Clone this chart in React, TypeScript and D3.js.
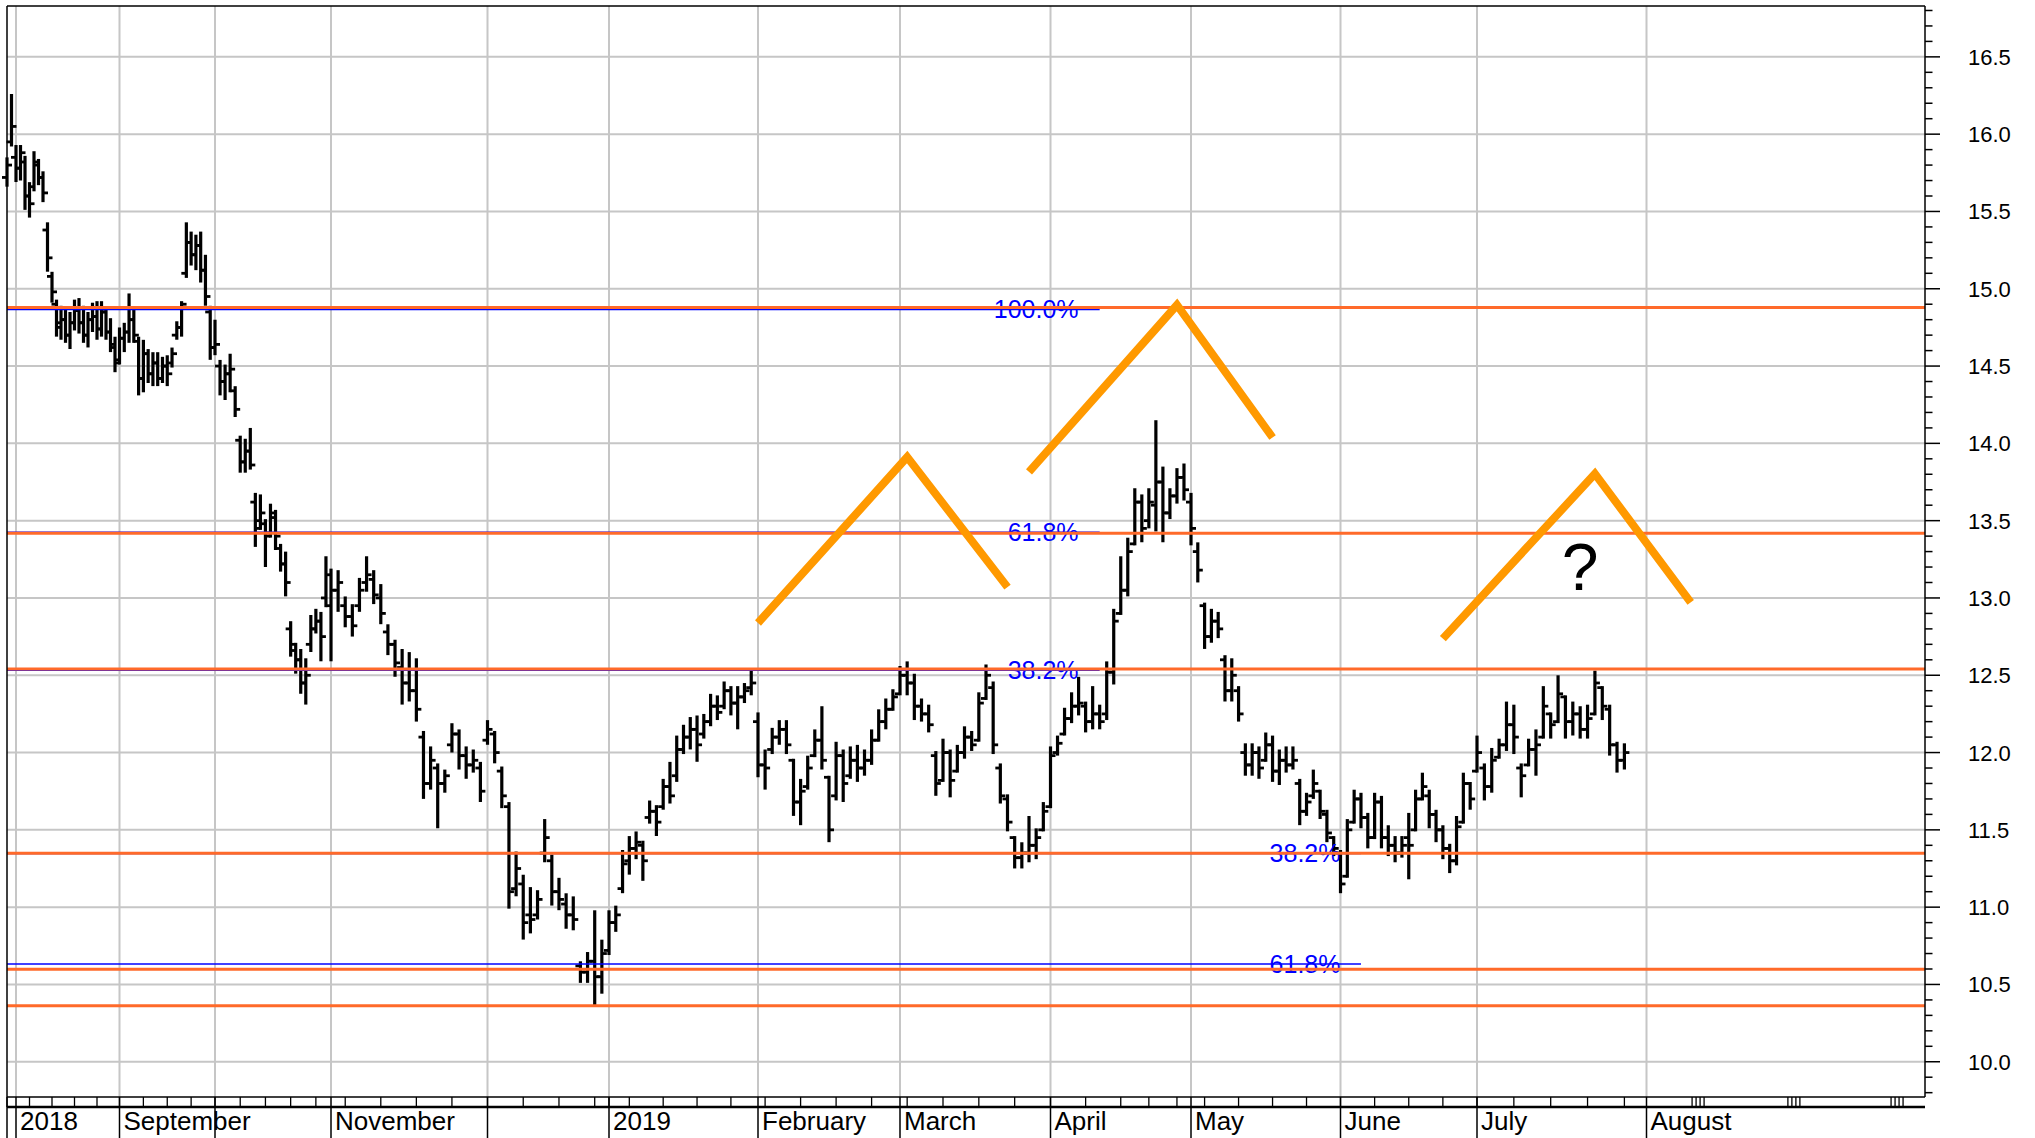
import React from 'react';
import * as d3 from 'd3';

// ---------- categories (trading days) ----------
const FIRST_DAY = '2018-07-30';
const LAST_AXIS_DAY = '2019-09-30';
const HOLIDAYS = ['2018-12-24', '2018-12-25', '2018-12-26', '2018-12-31', '2019-01-01', '2019-04-19', '2019-04-22', '2019-05-01'];

// ---------- series values (daily OHLC, Jul 30 2018 .. Jul 29 2019) ----------
const OPEN = [
  15.72, 15.95, 15.85, 15.78, 15.82, 15.60, 15.66, 15.80, 15.72, 15.38, 15.08, 14.90, 14.75, 14.80, 14.70, 14.78, 14.86, 14.78, 14.70, 14.80, 14.82, 14.74, 14.85, 14.72, 14.62,
  14.54, 14.68, 14.72, 14.80, 14.66, 14.42, 14.58, 14.45, 14.52, 14.42, 14.50, 14.52, 14.70, 14.75, 15.10, 15.30, 15.22, 15.28, 15.12, 14.85,
  14.62, 14.50, 14.40, 14.45, 14.34, 14.02, 13.88, 13.95, 13.62, 13.50, 13.48, 13.42, 13.52, 13.32, 13.22, 12.80, 12.66, 12.60, 12.45, 12.70, 12.80, 12.85, 13.00,
  12.95, 13.05, 12.95, 12.88, 12.95, 13.10, 13.12, 13.00, 12.78, 12.70, 12.55, 12.45, 12.40, 12.10, 11.80, 11.90, 11.80, 12.05, 12.12, 11.98, 11.92, 11.90,
  12.08, 12.12, 11.88, 11.65, 11.12, 11.15, 10.95, 10.95, 11.35, 11.30, 11.10, 11.02, 10.95, 10.62, 10.58, 10.65, 10.55,
  10.72, 10.90, 11.12, 11.30, 11.38, 11.40, 11.58, 11.62, 11.65, 11.78, 11.85, 12.02, 12.10, 12.15, 12.12, 12.20, 12.30, 12.30, 12.40, 12.32, 12.36, 12.42,
  12.20, 11.92, 12.02, 12.10, 12.15, 11.95, 11.68, 11.78, 11.98, 12.08, 11.84, 11.72, 11.98, 11.85, 11.95, 11.90, 11.95, 12.08, 12.20, 12.28,
  12.38, 12.50, 12.45, 12.30, 12.25, 11.98, 11.82, 12.00, 11.88, 12.00, 12.10, 12.08, 12.35, 12.42, 11.90, 11.70, 11.45, 11.32, 11.35, 11.40, 11.50,
  11.65, 12.00, 12.12, 12.22, 12.30, 12.30, 12.20, 12.25, 12.25, 12.52, 12.90, 13.05, 13.35, 13.62, 13.50, 13.60, 13.75, 13.55, 13.66, 13.78,
  13.62, 13.30, 12.95, 12.75, 12.85, 12.60, 12.40, 12.40, 12.00, 11.92, 12.00, 11.95, 12.05, 11.88, 11.95, 11.92, 11.80, 11.62, 11.72, 11.75, 11.60, 11.45,
  11.35, 11.20, 11.55, 11.70, 11.58, 11.45, 11.68, 11.45, 11.40, 11.35, 11.45, 11.50, 11.70, 11.72, 11.60, 11.50, 11.38, 11.30, 11.55, 11.80,
  11.88, 11.90, 11.78, 11.97, 12.05, 12.18, 11.90, 11.92, 12.02, 12.10, 12.25, 12.20, 12.36, 12.20, 12.25, 12.15, 12.25, 12.42, 12.28, 12.05, 11.95,
];
const HIGH = [
  15.84, 16.25, 15.92, 15.92, 15.85, 15.68, 15.88, 15.83, 15.75, 15.42, 15.10, 14.92, 14.88, 14.86, 14.84, 14.92, 14.93, 14.88, 14.84, 14.90, 14.91, 14.91, 14.87, 14.80, 14.68,
  14.74, 14.77, 14.96, 14.87, 14.68, 14.66, 14.60, 14.58, 14.58, 14.55, 14.56, 14.61, 14.78, 14.91, 15.42, 15.36, 15.34, 15.36, 15.21, 14.88,
  14.79, 14.53, 14.50, 14.57, 14.36, 14.04, 14.02, 14.09, 13.67, 13.66, 13.50, 13.60, 13.56, 13.34, 13.29, 12.84, 12.70, 12.66, 12.60, 12.88, 12.92, 12.90, 13.26,
  13.18, 13.17, 13.00, 12.95, 13.12, 13.26, 13.17, 13.08, 12.82, 12.72, 12.66, 12.64, 12.60, 12.13, 12.03, 11.92, 11.88, 12.18, 12.14, 12.03, 12.01, 11.93,
  12.20, 12.13, 11.90, 11.67, 11.35, 11.20, 11.12, 11.10, 11.56, 11.33, 11.18, 11.08, 11.06, 10.64, 10.70, 10.97, 10.78,
  10.97, 11.00, 11.36, 11.45, 11.48, 11.42, 11.68, 11.65, 11.82, 11.93, 12.10, 12.17, 12.22, 12.23, 12.24, 12.37, 12.36, 12.45, 12.42, 12.42, 12.44, 12.53,
  12.25, 12.01, 12.15, 12.20, 12.20, 11.95, 11.82, 11.97, 12.14, 12.29, 11.84, 12.06, 12.01, 12.03, 12.04, 12.01, 12.14, 12.27, 12.34, 12.40,
  12.55, 12.58, 12.50, 12.34, 12.30, 12.00, 12.08, 12.01, 12.04, 12.16, 12.13, 12.38, 12.56, 12.45, 11.92, 11.72, 11.45, 11.41, 11.58, 11.50, 11.67,
  12.03, 12.10, 12.28, 12.38, 12.48, 12.32, 12.42, 12.30, 12.58, 12.92, 13.26, 13.38, 13.70, 13.66, 13.70, 14.14, 13.84, 13.70, 13.83, 13.86,
  13.67, 13.35, 12.96, 12.92, 12.90, 12.62, 12.60, 12.42, 12.05, 12.05, 12.03, 12.12, 12.10, 12.01, 12.03, 12.03, 11.82, 11.73, 11.88, 11.75, 11.62, 11.45,
  11.36, 11.56, 11.75, 11.73, 11.60, 11.73, 11.71, 11.52, 11.45, 11.45, 11.60, 11.75, 11.86, 11.75, 11.62, 11.52, 11.40, 11.58, 11.86, 11.80,
  12.10, 11.92, 12.02, 12.08, 12.32, 12.30, 11.92, 12.08, 12.14, 12.42, 12.25, 12.49, 12.36, 12.32, 12.29, 12.30, 12.52, 12.42, 12.30, 12.06, 12.05,
];
const LOW = [
  15.67, 15.93, 15.70, 15.71, 15.52, 15.47, 15.64, 15.68, 15.57, 15.12, 14.92, 14.70, 14.68, 14.66, 14.62, 14.74, 14.72, 14.66, 14.63, 14.73, 14.68, 14.70, 14.68, 14.60, 14.47,
  14.52, 14.60, 14.66, 14.66, 14.32, 14.34, 14.40, 14.38, 14.38, 14.40, 14.38, 14.50, 14.68, 14.70, 15.08, 15.16, 15.13, 15.05, 14.90, 14.55,
  14.58, 14.32, 14.29, 14.34, 14.18, 13.82, 13.82, 13.84, 13.34, 13.45, 13.21, 13.40, 13.32, 13.18, 13.02, 12.63, 12.52, 12.39, 12.32, 12.66, 12.78, 12.60, 12.95,
  12.60, 12.92, 12.82, 12.76, 12.92, 13.05, 12.97, 12.84, 12.64, 12.50, 12.32, 12.34, 12.21, 11.71, 11.77, 11.52, 11.75, 12.01, 11.90, 11.84, 11.88, 11.69,
  12.06, 11.94, 11.65, 11.00, 11.08, 10.80, 10.84, 10.93, 11.30, 11.02, 10.99, 10.87, 10.86, 10.52, 10.52, 10.37, 10.45,
  10.70, 10.85, 11.10, 11.22, 11.32, 11.18, 11.55, 11.47, 11.64, 11.68, 11.82, 12.00, 12.03, 11.95, 12.10, 12.18, 12.22, 12.29, 12.25, 12.16, 12.33, 12.38,
  11.85, 11.77, 12.00, 12.06, 12.00, 11.60, 11.54, 11.77, 11.98, 11.90, 11.43, 11.70, 11.69, 11.84, 11.82, 11.86, 11.93, 12.08, 12.16, 12.28,
  12.38, 12.38, 12.22, 12.21, 12.14, 11.73, 11.82, 11.72, 11.88, 11.97, 12.02, 12.08, 12.35, 12.00, 11.68, 11.50, 11.26, 11.26, 11.30, 11.32, 11.50,
  11.65, 11.99, 12.12, 12.20, 12.25, 12.14, 12.16, 12.16, 12.22, 12.45, 12.90, 13.02, 13.35, 13.37, 13.46, 13.44, 13.37, 13.52, 13.62, 13.64,
  13.35, 13.11, 12.68, 12.72, 12.75, 12.34, 12.34, 12.21, 11.86, 11.86, 11.84, 11.95, 11.82, 11.80, 11.88, 11.90, 11.54, 11.60, 11.71, 11.58, 11.43, 11.34,
  11.10, 11.20, 11.55, 11.52, 11.39, 11.45, 11.39, 11.34, 11.30, 11.33, 11.19, 11.50, 11.70, 11.52, 11.43, 11.32, 11.23, 11.28, 11.55, 11.64,
  11.88, 11.70, 11.75, 11.97, 12.02, 12.00, 11.72, 11.92, 11.86, 12.10, 12.10, 12.20, 12.10, 12.12, 12.10, 12.10, 12.25, 12.22, 11.99, 11.88, 11.90,
];
const CLOSE = [
  15.80, 16.05, 15.78, 15.88, 15.60, 15.55, 15.82, 15.72, 15.62, 15.20, 14.98, 14.78, 14.80, 14.70, 14.78, 14.86, 14.78, 14.70, 14.80, 14.82, 14.74, 14.85, 14.72, 14.64, 14.52,
  14.68, 14.72, 14.80, 14.70, 14.42, 14.58, 14.45, 14.52, 14.42, 14.50, 14.45, 14.58, 14.75, 14.90, 15.30, 15.22, 15.28, 15.12, 14.95, 14.62,
  14.64, 14.40, 14.45, 14.48, 14.22, 13.88, 13.95, 13.86, 13.45, 13.55, 13.40, 13.55, 13.40, 13.22, 13.10, 12.70, 12.60, 12.45, 12.50, 12.80, 12.85, 12.75, 13.15,
  13.05, 13.10, 12.88, 12.82, 13.05, 13.15, 13.02, 12.90, 12.70, 12.58, 12.45, 12.40, 12.28, 11.80, 11.95, 11.80, 11.85, 12.12, 11.98, 11.92, 11.95, 11.75,
  12.15, 12.00, 11.72, 11.10, 11.25, 10.90, 10.92, 11.05, 11.45, 11.10, 11.05, 10.95, 10.92, 10.58, 10.65, 10.55, 10.70,
  10.90, 10.95, 11.28, 11.38, 11.42, 11.30, 11.62, 11.55, 11.78, 11.72, 12.02, 12.10, 12.15, 12.05, 12.20, 12.30, 12.26, 12.40, 12.32, 12.36, 12.40, 12.45,
  11.92, 11.90, 12.10, 12.15, 12.05, 11.68, 11.75, 11.90, 12.08, 11.95, 11.50, 11.98, 11.80, 11.95, 11.90, 11.95, 12.08, 12.20, 12.28, 12.36,
  12.50, 12.45, 12.30, 12.25, 12.18, 11.80, 12.00, 11.82, 12.00, 12.10, 12.05, 12.32, 12.50, 12.05, 11.72, 11.55, 11.32, 11.35, 11.40, 11.45, 11.62,
  11.98, 12.06, 12.22, 12.30, 12.32, 12.20, 12.25, 12.20, 12.52, 12.85, 13.05, 13.30, 13.62, 13.45, 13.62, 13.75, 13.55, 13.66, 13.78, 13.70,
  13.45, 13.18, 12.75, 12.85, 12.80, 12.40, 12.50, 12.25, 11.92, 12.00, 11.90, 12.05, 11.88, 11.95, 11.92, 11.95, 11.62, 11.68, 11.80, 11.62, 11.48, 11.38,
  11.15, 11.50, 11.70, 11.58, 11.45, 11.68, 11.45, 11.40, 11.35, 11.40, 11.40, 11.70, 11.78, 11.60, 11.50, 11.38, 11.30, 11.52, 11.80, 11.70,
  12.00, 11.78, 11.95, 12.05, 12.18, 12.10, 11.85, 12.02, 12.05, 12.30, 12.18, 12.38, 12.20, 12.25, 12.15, 12.22, 12.45, 12.30, 12.05, 11.95, 12.00,
];

// ---------- axis categories / tick labels ----------
const MONTHS = ['2018-08', '2018-09', '2018-10', '2018-11', '2018-12', '2019-01', '2019-02', '2019-03', '2019-04', '2019-05', '2019-06', '2019-07', '2019-08'];
const MONTH_LABELS = ['2018', 'September', '', 'November', '', '2019', 'February', 'March', 'April', 'May', 'June', 'July', 'August'];
const Y_LABELS = [10.0, 10.5, 11.0, 11.5, 12.0, 12.5, 13.0, 13.5, 14.0, 14.5, 15.0, 15.5, 16.0, 16.5];
const FUTURE_MARKS = ['2019-08-12', '2019-08-29', '2019-09-18'];

// ---------- annotations ----------
const SUPPORT_LEVELS = [14.879, 13.418, 12.54, 11.348, 10.598, 10.362];
const FIB_UPPER_LEVELS = [14.866, 13.425, 12.533];
const FIB_UPPER_LABELS = ['100.0%', '61.8%', '38.2%'];
const FIB_LOWER_LEVELS = [11.348, 10.632];
const FIB_LOWER_LABELS = ['38.2%', '61.8%'];
const FIB_UPPER_END = { label: '2019-04-05', line: '2019-04-10' };
const FIB_LOWER_END = { label: '2019-06-03', line: '2019-06-06' };
const ZIG_DATES = [
  ['2019-02-01', '2019-03-04', '2019-03-22'],
  ['2019-03-27', '2019-04-29', '2019-05-20'],
  ['2019-06-24', '2019-07-23', '2019-08-09'],
];
const ZIG_PRICES = [
  [12.838, 13.911, 13.07],
  [13.816, 14.895, 14.038],
  [12.737, 13.803, 12.972],
];
const QUESTION = { date: '2019-07-19', price: 13.05 };

// ---------- layout ----------
const W = 2035;
const H = 1138;
const PLOT = { left: 7, right: 1925, top: 6, bottom: 1097 };
const MONTH_X = [16, 119.5, 215, 331, 487.5, 609, 758, 900, 1050.5, 1191, 1340.5, 1477, 1646.5];
const Y_DOMAIN = [9.772, 16.829];
const FONT = '"Liberation Sans", Arial, Helvetica, sans-serif';
const ORANGE = '#ff6a2a';
const ZIG = '#ff9900';
const BLUE = '#0000ff';
const GRID = '#c6c6c6';

const fmt = d3.utcFormat('%Y-%m-%d');
const parse = d3.utcParse('%Y-%m-%d');

export default function App() {
  const days = d3.utcDay
    .range(parse(FIRST_DAY) as Date, d3.utcDay.offset(parse(LAST_AXIS_DAY) as Date, 1))
    .filter((d) => d.getUTCDay() !== 0 && d.getUTCDay() !== 6 && !HOLIDAYS.includes(fmt(d)));
  const dayIdx = new Map<string, number>();
  days.forEach((d, i) => dayIdx.set(fmt(d), i));
  const monthFirstIdx = MONTHS.map((m) => days.findIndex((d) => fmt(d).slice(0, 7) === m));

  const x = d3.scaleLinear().domain(monthFirstIdx).range(MONTH_X);
  const y = d3.scaleLinear().domain(Y_DOMAIN).range([PLOT.bottom, PLOT.top]);
  const xd = (s: string) => x(dayIdx.get(s) as number);

  const n = Math.min(OPEN.length, HIGH.length, LOW.length, CLOSE.length);
  const bars = d3.range(n).map((i) => ({ i, o: OPEN[i], h: HIGH[i], l: LOW[i], c: CLOSE[i] }));

  // weekly ticks (first trading day of each week) within the data
  const weekTicks: number[] = [];
  for (let i = 0; i < n; i++) {
    if (i === 0 || days[i].getUTCDay() < days[i - 1].getUTCDay()) weekTicks.push(i);
  }

  const minorTicks = d3.range(98, 169).map((v) => v / 10);

  const zigLine = d3
    .line<[number, number]>()
    .x((d) => d[0])
    .y((d) => d[1]);

  return (
    <svg
      width={W}
      height={H}
      style={{ position: 'absolute', left: 0, top: 0, background: '#fff' }}
      fontFamily={FONT}
    >
      <rect x={0} y={0} width={W} height={H} fill="#fff" />

      {/* grid */}
      {Y_LABELS.map((v) => (
        <line key={'hg' + v} x1={PLOT.left} x2={PLOT.right} y1={y(v)} y2={y(v)} stroke={GRID} strokeWidth={2} />
      ))}
      {monthFirstIdx.map((idx, k) => (
        <line key={'vg' + k} x1={x(idx)} x2={x(idx)} y1={PLOT.top} y2={PLOT.bottom} stroke={GRID} strokeWidth={2} />
      ))}

      {/* OHLC bars */}
      <g stroke="#000" strokeWidth={3.2}>
        {bars.map((b) => {
          const cx = x(b.i);
          return (
            <g key={b.i}>
              <line x1={cx} x2={cx} y1={y(b.h) - 1.5} y2={y(b.l) + 1.5} />
              <line x1={cx - 5} x2={cx} y1={y(b.o)} y2={y(b.o)} strokeWidth={2.8} />
              <line x1={cx} x2={cx + 5} y1={y(b.c)} y2={y(b.c)} strokeWidth={2.8} />
            </g>
          );
        })}
      </g>

      {/* Fibonacci lines and labels */}
      {FIB_UPPER_LEVELS.map((v, k) => (
        <g key={'fu' + k}>
          <line x1={PLOT.left} x2={xd(FIB_UPPER_END.line)} y1={y(v)} y2={y(v)} stroke={BLUE} strokeWidth={1.6} />
          <text x={xd(FIB_UPPER_END.label)} y={y(v) + 9} textAnchor="end" fontSize={25} fill={BLUE}>
            {FIB_UPPER_LABELS[k]}
          </text>
        </g>
      ))}
      {FIB_LOWER_LEVELS.map((v, k) => (
        <g key={'fl' + k}>
          <line x1={PLOT.left} x2={xd(FIB_LOWER_END.line)} y1={y(v)} y2={y(v)} stroke={BLUE} strokeWidth={1.6} />
          <text x={xd(FIB_LOWER_END.label)} y={y(v) + 9} textAnchor="end" fontSize={25} fill={BLUE}>
            {FIB_LOWER_LABELS[k]}
          </text>
        </g>
      ))}

      {/* horizontal support / resistance lines */}
      {SUPPORT_LEVELS.map((v, k) => (
        <line key={'sl' + k} x1={PLOT.left} x2={PLOT.right} y1={y(v)} y2={y(v)} stroke={ORANGE} strokeWidth={3} />
      ))}

      {/* zig-zag pattern sketches */}
      {ZIG_DATES.map((ds, k) => (
        <path
          key={'zz' + k}
          d={zigLine(ds.map((s, j) => [xd(s), y(ZIG_PRICES[k][j])] as [number, number])) as string}
          fill="none"
          stroke={ZIG}
          strokeWidth={8}
          strokeLinejoin="miter"
          strokeMiterlimit={10}
        />
      ))}
      <text x={xd(QUESTION.date)} y={y(QUESTION.price)} textAnchor="middle" fontSize={66} fill="#000">
        ?
      </text>

      {/* plot frame */}
      <line x1={PLOT.left} x2={PLOT.right} y1={PLOT.top} y2={PLOT.top} stroke="#000" strokeWidth={1.5} />
      <line x1={PLOT.left} x2={PLOT.left} y1={PLOT.top} y2={H} stroke="#000" strokeWidth={1.5} />
      <line x1={PLOT.right} x2={PLOT.right} y1={PLOT.top} y2={PLOT.bottom} stroke="#000" strokeWidth={1.5} />
      <line x1={PLOT.left} x2={PLOT.right} y1={PLOT.bottom} y2={PLOT.bottom} stroke="#000" strokeWidth={1.5} />
      <line x1={PLOT.left} x2={PLOT.right} y1={PLOT.bottom + 10} y2={PLOT.bottom + 10} stroke="#000" strokeWidth={2.5} />

      {/* right value axis */}
      {minorTicks.map((v) => {
        const major = Math.round(v * 10) % 5 === 0;
        return (
          <line
            key={'yt' + v}
            x1={PLOT.right}
            x2={PLOT.right + (major ? 15 : 7.5)}
            y1={y(v)}
            y2={y(v)}
            stroke="#000"
            strokeWidth={1.5}
          />
        );
      })}
      {Y_LABELS.map((v) => (
        <text key={'yl' + v} x={1968} y={y(v) + 8} fontSize={22} fill="#000">
          {v.toFixed(1)}
        </text>
      ))}

      {/* time axis: weekly ticks, month separators, labels */}
      {weekTicks.map((i) => (
        <line key={'wt' + i} x1={x(i)} x2={x(i)} y1={PLOT.bottom} y2={PLOT.bottom + 10} stroke="#000" strokeWidth={1.3} />
      ))}
      {FUTURE_MARKS.map((s) =>
        [-6, -2, 2, 6].map((o) => (
          <line
            key={'fm' + s + o}
            x1={xd(s) + o}
            x2={xd(s) + o}
            y1={PLOT.bottom}
            y2={PLOT.bottom + 10}
            stroke="#000"
            strokeWidth={1.3}
          />
        ))
      )}
      {monthFirstIdx.map((idx, k) => (
        <g key={'ms' + k}>
          <line x1={x(idx)} x2={x(idx)} y1={PLOT.bottom} y2={H} stroke="#000" strokeWidth={1.5} />
          {MONTH_LABELS[k] && (
            <text x={Math.max(x(idx) + 4, 12)} y={1130} fontSize={26} fill="#000">
              {MONTH_LABELS[k]}
            </text>
          )}
        </g>
      ))}
    </svg>
  );
}
